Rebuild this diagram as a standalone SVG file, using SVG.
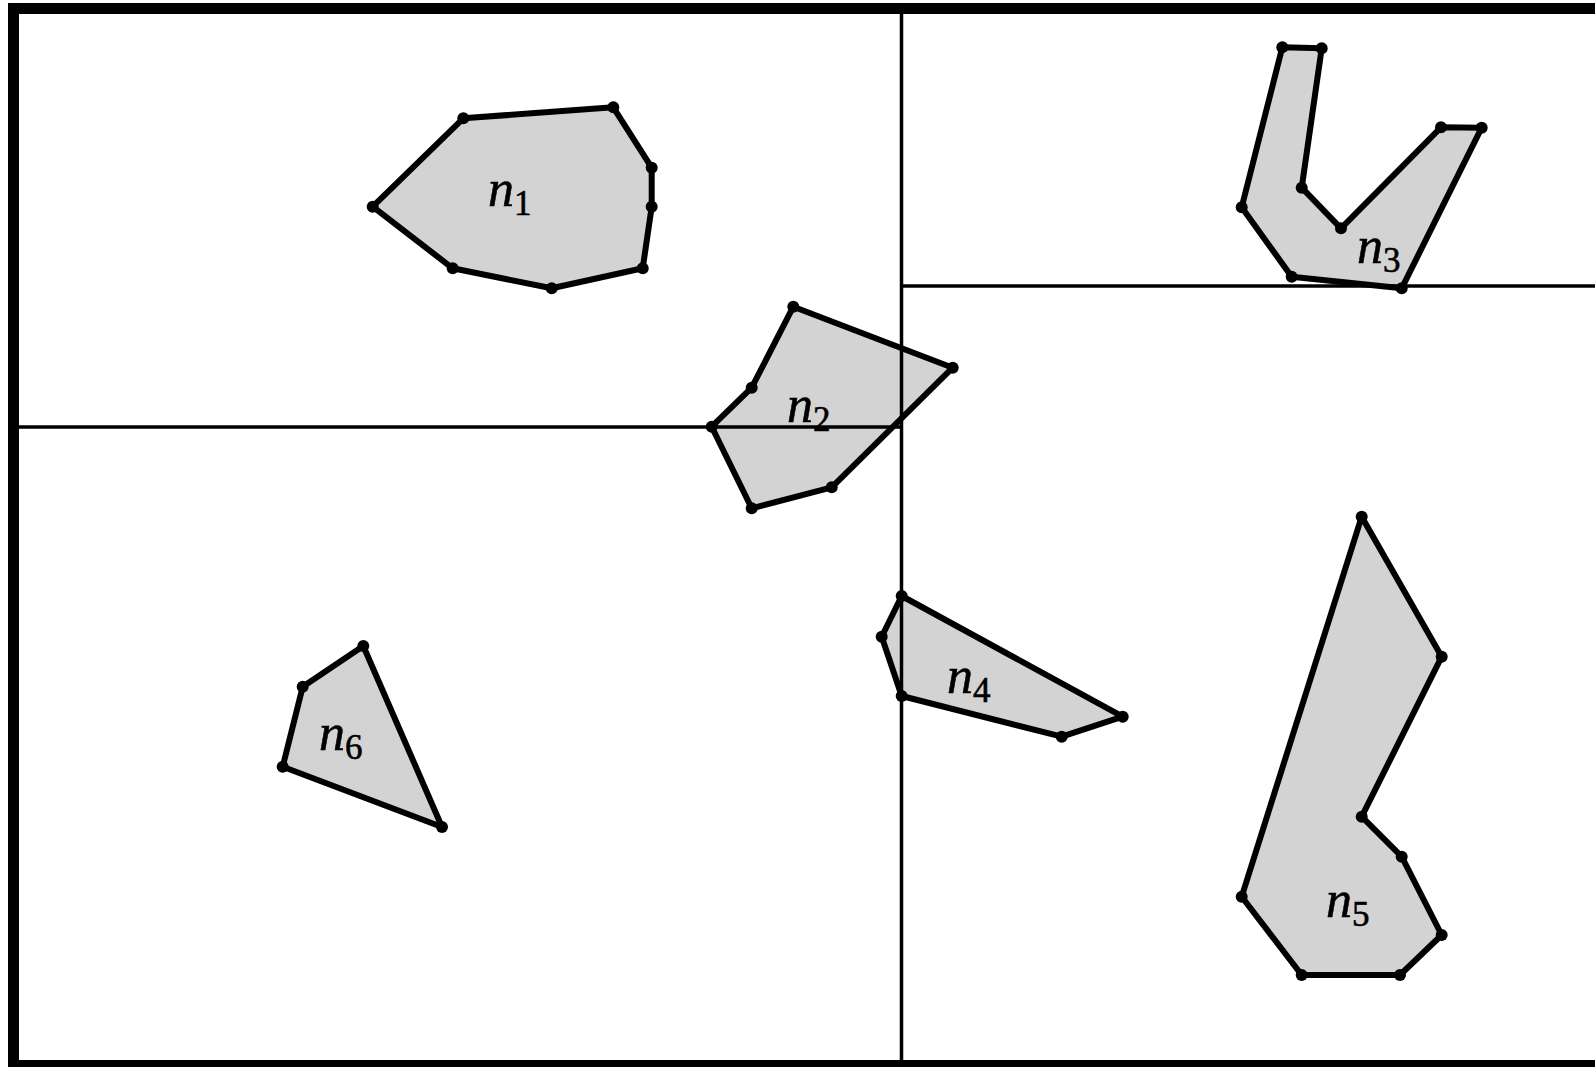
<svg xmlns="http://www.w3.org/2000/svg" width="1595" height="1067" viewBox="0 0 1595 1067">
<style>
.frame{fill:none;stroke:#000;stroke-width:11}
.div{stroke:#000;stroke-width:3.5;fill:none}
.poly{fill:#d3d3d3;stroke:#000;stroke-width:6;stroke-linejoin:round}
.v{fill:#000}
.lbl{font-family:"Liberation Serif",serif;font-style:italic;font-size:52px;fill:#000;stroke:#000;stroke-width:0.6}
.sub{font-family:"Liberation Serif",serif;font-style:normal;font-size:35px}
</style>
<rect width="1595" height="1067" fill="#fff"/>
<g id="n1">
<polygon class="poly" points="372.7,206.7 463.3,118.3 613.3,107.3 651.7,167.7 651.7,206.7 642.7,268.3 551.7,288.3 452.7,268.3"/>
<g class="v"><circle cx="372.7" cy="206.7" r="6"/><circle cx="463.3" cy="118.3" r="6"/><circle cx="613.3" cy="107.3" r="6"/><circle cx="651.7" cy="167.7" r="6"/><circle cx="651.7" cy="206.7" r="6"/><circle cx="642.7" cy="268.3" r="6"/><circle cx="551.7" cy="288.3" r="6"/><circle cx="452.7" cy="268.3" r="6"/></g>
<text class="lbl" x="488" y="206">n<tspan class="sub" dy="9">1</tspan></text>
</g>
<g id="n2">
<polygon class="poly" points="793.3,306.7 952.7,367.7 831.7,487.3 751.7,508.3 711.7,426.7 751.7,387.7"/>
<g class="v"><circle cx="793.3" cy="306.7" r="6"/><circle cx="952.7" cy="367.7" r="6"/><circle cx="831.7" cy="487.3" r="6"/><circle cx="751.7" cy="508.3" r="6"/><circle cx="711.7" cy="426.7" r="6"/><circle cx="751.7" cy="387.7" r="6"/></g>
<text class="lbl" x="787" y="422">n<tspan class="sub" dy="9">2</tspan></text>
</g>
<g id="n3">
<polygon class="poly" points="1282.3,47.3 1321.7,48.3 1301.7,187.7 1341,228.3 1441,127.3 1481.7,127.7 1401.7,288.3 1291.7,276.7 1241.7,207.3"/>
<g class="v"><circle cx="1282.3" cy="47.3" r="6"/><circle cx="1321.7" cy="48.3" r="6"/><circle cx="1301.7" cy="187.7" r="6"/><circle cx="1341" cy="228.3" r="6"/><circle cx="1441" cy="127.3" r="6"/><circle cx="1481.7" cy="127.7" r="6"/><circle cx="1401.7" cy="288.3" r="6"/><circle cx="1291.7" cy="276.7" r="6"/><circle cx="1241.7" cy="207.3" r="6"/></g>
<text class="lbl" x="1357" y="263">n<tspan class="sub" dy="9">3</tspan></text>
</g>
<g id="n4">
<polygon class="poly" points="901.7,596 1122.7,716.7 1061.7,736.7 901.7,696 881.7,636.7"/>
<g class="v"><circle cx="901.7" cy="596" r="6"/><circle cx="1122.7" cy="716.7" r="6"/><circle cx="1061.7" cy="736.7" r="6"/><circle cx="901.7" cy="696" r="6"/><circle cx="881.7" cy="636.7" r="6"/></g>
<text class="lbl" x="947" y="693">n<tspan class="sub" dy="9">4</tspan></text>
</g>
<g id="n5">
<polygon class="poly" points="1361.7,516.7 1441.7,656.7 1361.7,816.7 1401.7,856.7 1441.7,935 1400,975 1301.7,975 1241.7,896.7"/>
<g class="v"><circle cx="1361.7" cy="516.7" r="6"/><circle cx="1441.7" cy="656.7" r="6"/><circle cx="1361.7" cy="816.7" r="6"/><circle cx="1401.7" cy="856.7" r="6"/><circle cx="1441.7" cy="935" r="6"/><circle cx="1400" cy="975" r="6"/><circle cx="1301.7" cy="975" r="6"/><circle cx="1241.7" cy="896.7" r="6"/></g>
<text class="lbl" x="1326" y="917">n<tspan class="sub" dy="9">5</tspan></text>
</g>
<g id="n6">
<polygon class="poly" points="363.3,646 442,827 282.7,766.7 302.7,686.7"/>
<g class="v"><circle cx="363.3" cy="646" r="6"/><circle cx="442" cy="827" r="6"/><circle cx="282.7" cy="766.7" r="6"/><circle cx="302.7" cy="686.7" r="6"/></g>
<text class="lbl" x="319" y="750">n<tspan class="sub" dy="9">6</tspan></text>
</g>
<g id="connectors">
<line class="div" x1="19" y1="427" x2="901.5" y2="427"/>
<line class="div" x1="901.5" y1="14" x2="901.5" y2="1060"/>
<line class="div" x1="901.5" y1="286" x2="1595" y2="286"/>
</g>
<rect class="frame" x="13.5" y="8.5" width="1600" height="1057"/>
</svg>
